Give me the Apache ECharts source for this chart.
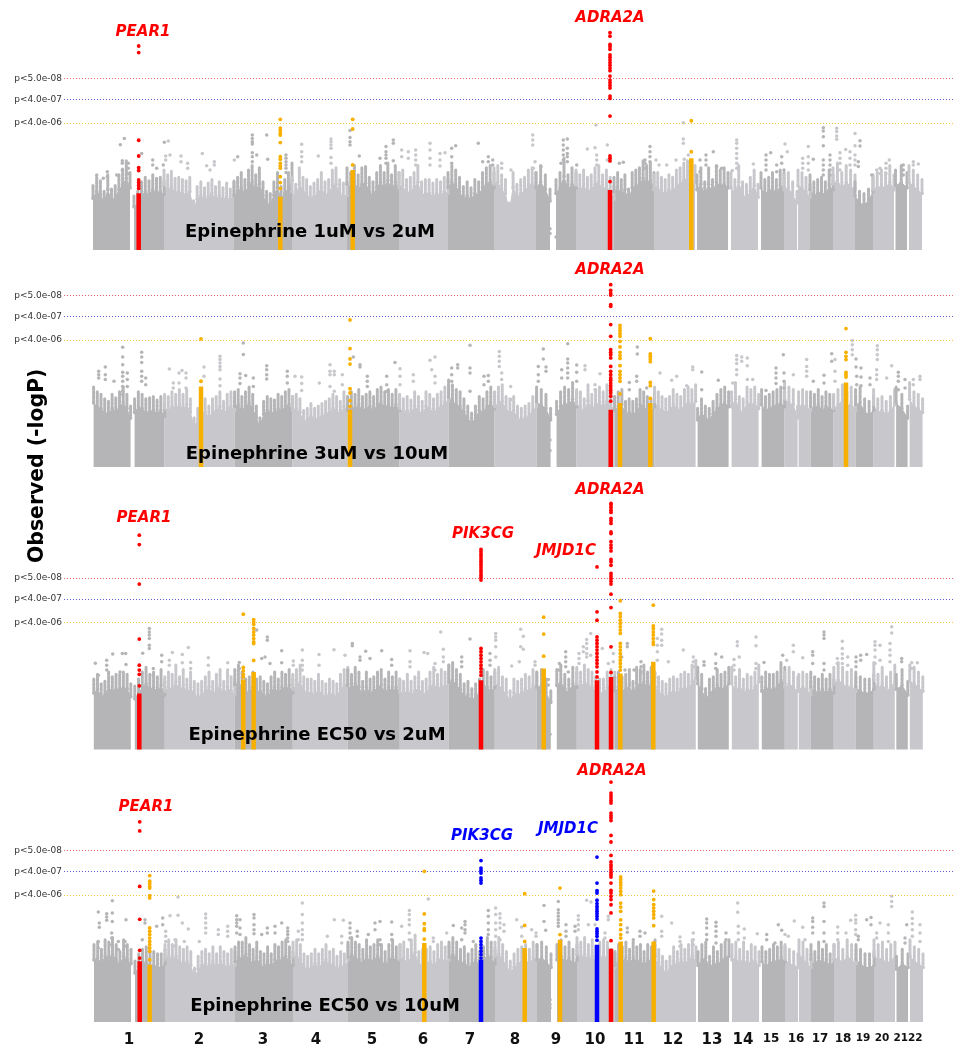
<!DOCTYPE html>
<html><head><meta charset="utf-8">
<style>html,body{margin:0;padding:0;background:#fff}#c{width:965px;height:1050px}</style>
<script src="https://cdn.jsdelivr.net/npm/echarts@6/dist/echarts.min.js"></script></head>
<body><div id="c"></div>
<script>
// x = genome position (plot units), y = -log10(p)
const thresholds = [[7.3,'p<5.0e-08'],[6.4,'p<4.0e-07'],[5.4,'p<4.0e-06']];
const bands = [[0,37,1],[41,71,1],[71,141,2],[141,199,3],[199,254,4],[254,306,5],[306,355,6],[355,401,7],[401,443,8],[443,457,9],[463,483,9],[483,521,10],[521,561,11],[561,602,12],[604,635,13],[638,665,14],[668,691,15],[691,704,16],[705,717,16],[717,740,17],[740,762,18],[762,780,19],[780,801,20],[802.5,814,21],[816,829,22]];
const chromNames = ['1','2','3','4','5','6','7','8','9','10','11','12','13','14','15','16','17','18','19','20','2122'];
const chromTicks = [36,106,170,223,279,330,377,422,463,502,541,580,619,650,678,703,727,750,770,789,815];

const mass1 = [[2.75,3.1,2.95,2.5,3.2,2.6,2.75,3.2,3.45,3.8,3.3],[2.3,2.5,2.9,3.1,2.95,3.2,3.05,3.1,2.95],[3.4,3.2,3.35,3.05,3.1,3.0,2.95,3.1,2.1,2.7,2.9,2.65,2.85,3.0,2.7,2.9,2.65,2.85,2.6,2.95],[2.9,3.1,3.3,3.0,3.4,3.6,3.2,3.5,2.9,2.5,2.4,2.9,3.3,2.7,3.0,3.3,3.7],[3.1,2.8,3.5,3.1,3.0,2.7,2.85,3.0,3.3,2.9,3.0,3.4,3.5,3.0,2.85,2.9],[3.5,3.3,3.6,3.2,3.5,3.55,3.1,2.9,3.3,3.6,3.3,3.7,3.2,3.6,3.3],[3.3,3.4,3.0,3.1,3.3,3.6,2.9,3.0,3.0,2.85,3.0,2.9,3.1,3.0],[3.3,3.6,3.4,3.1,2.7,2.9,2.65,3.0,2.9,3.3,3.5,3.6,3.3],[3.5,3.6,3.2,3.0,2.0,3.3,2.8,3.0,3.1,3.4,3.5,3.3],[3.3,3.6,3.2,2.6],[3.0,3.3,3.9,3.2,3.5,3.3],[3.4,3.2,3.4,3.1,3.2,3.5,3.6,3.2,3.4,3.1,2.7],[3.1,3.3,3.0,3.2,2.6,3.3,3.4,3.5,3.8,3.6,3.7,3.3],[3.2,3.3,3.1,3.0,3.2,3.1,3.4,3.5,3.7,3.8,3.3,3.6],[3.2,3.5,2.9,3.5,3.0,3.6,3.4,3.5,3.3],[3.3,3.0,3.6,2.9,2.8,3.1,3.4,2.8],[3.3,3.0,3.1,3.3,3.0,3.4,3.3],[3.2,3.3,2.9,2.5],[3.4,3.3,3.1,2.8],[3.2,2.9,3.0,3.1,2.9,3.4,3.2],[3.5,3.7,3.3,3.6,3.4,3.2],[2.9,2.5,2.4,2.6,3.1],[3.2,3.3,3.4,3.3,3.6,3.2],[3.4,3.6,3.3],[3.6,3.4,3.2,3.0]];
const mass2 = [[3.4,3.2,3.1,2.9,2.8,3.1,2.95,3.2,3.4,3.1,2.6],[2.9,3.2,3.1,2.9,2.95,3.0,2.85,3.0,2.7],[3.1,3.0,3.2,3.1,3.3,3.1,3.3,2.9,2.1,2.5,2.8,2.9,2.6,2.9,3.0,3.2,2.8,3.1,3.2,3.0],[3.2,3.3,3.0,3.2,3.4,3.1,2.6,2.1,2.8,3.0,2.9,2.85,3.1,3.0,3.2,3.3,3.0],[3.0,3.1,2.9,2.4,2.5,2.7,2.5,2.6,2.7,2.8,2.9,3.1,3.0,2.8,3.2,3.0],[3.0,3.2,3.1,3.3,3.0,3.1,3.2,3.0,3.3,3.4,3.2,3.3,3.1,3.3,3.0],[3.1,2.9,3.0,2.85,3.2,3.0,2.8,3.2,3.1,2.9,3.1,3.2,3.4,3.5],[3.7,3.5,3.3,3.2,2.9,2.6,2.3,2.6,3.0,2.9,3.2,3.4,3.1],[3.2,3.4,3.5,3.0,2.9,3.0,2.6,2.5,2.6,2.7,3.0,3.2],[3.4,3.3,3.1,2.5],[2.8,3.2,3.4,3.3,3.6,3.2],[3.3,3.2,2.9,3.5,3.1,3.3,3.4,3.2,3.5,3.3,3.0],[3.0,3.2,3.3,2.8,2.9,2.8,2.9,3.3,3.2,3.0,2.9,3.2],[3.4,3.2,3.0,2.9,3.0,3.3,3.1,3.0,3.3,3.4,3.3,3.5],[2.5,2.9,2.6,2.5,2.8,3.1,3.3,3.4,3.2],[3.2,3.6,3.0,2.9,3.4,3.3,3.4,3.1],[3.3,3.0,3.1,3.2,3.3,3.4,3.2],[3.6,3.4,3.3,2.6],[3.2,3.3,3.2,3.0],[3.2,3.1,3.3,3.0,3.2,3.1,3.0],[3.1,3.3,3.5,3.2,3.4,3.0],[3.3,3.4,2.9,2.8,3.0],[3.3,2.9,3.0,2.8,3.0,3.3],[3.4,3.1,2.6],[3.6,3.2,3.1,2.9]];
const mass3 = [[3.0,3.2,2.8,2.9,3.3,3.1,3.2,3.2,3.3,3.2,2.8],[2.7,3.0,3.3,3.5,3.2,3.3,3.1,3.4,2.9],[3.1,3.3,3.2,3.6,3.1,3.4,3.0,3.3,2.9,2.8,2.9,3.1,3.3,2.9,3.2,3.4,2.9,3.3,3.1,2.9],[3.4,3.6,3.3,3.0,3.1,3.3,3.0,3.1,2.9,2.8,3.1,3.3,3.0,3.3,3.2,3.4,3.0],[3.2,3.4,3.6,3.1,3.0,3.0,2.9,3.2,2.9,2.8,3.0,2.9,2.8,3.2,3.4,3.5],[3.4,3.2,3.5,3.3,2.9,3.3,3.0,3.1,3.3,3.4,3.0,3.3,3.1,3.3,3.0],[3.0,2.9,3.2,2.9,3.1,3.3,2.9,3.0,3.3,3.5,3.2,3.4,3.3,3.6],[3.6,3.7,3.4,3.2,2.8,2.9,2.6,2.8,3.0,3.4,3.3,3.1,3.3],[3.4,3.5,3.1,3.0,2.5,3.0,2.9,3.0,3.2,3.1,3.4,3.3],[3.3,3.4,3.0,2.5],[3.4,3.6,3.2,3.0,3.5,3.3],[3.5,3.3,3.6,3.4,3.3,3.1,3.0,3.0,3.3,3.4,3.3],[3.1,3.3,3.1,3.2,3.4,2.9,3.5,3.4,3.6,3.3,3.5,3.3],[3.3,3.1,2.9,2.8,3.0,3.1,3.0,3.2,3.3,3.2,3.6,3.8],[3.5,3.2,2.6,3.0,3.1,3.4,3.2,3.3,3.5],[3.5,3.1,3.4,3.0,3.2,3.1,3.3,3.6],[3.1,3.3,3.2,3.2,3.3,3.7,3.5],[3.3,3.5,3.3,3.1],[3.2,3.3,3.2,2.9],[3.3,3.1,3.0,3.2,3.0,3.2,3.0],[3.5,3.7,3.5,3.3,3.4,3.1],[3.3,3.1,3.0,3.0,3.2],[3.7,3.2,3.5,3.1,3.3,3.6],[3.2,3.4,2.9],[3.6,3.5,3.3,3.1]];
const mass4 = [[3.3,3.4,3.1,3.5,3.4,3.6,3.3,3.0,3.5,3.3,3.1],[2.6,2.9,3.1,3.2,3.0,3.0,2.9,2.9,3.1],[3.3,3.5,3.3,3.5,3.2,3.1,3.2,3.0,2.3,2.8,3.0,3.1,2.9,3.2,2.9,3.2,3.0,2.9,3.1,3.0],[3.2,3.4,3.4,3.6,3.3,3.1,3.4,3.0,2.9,3.2,2.9,3.3,3.2,3.4,3.5,3.2,3.0],[3.4,3.5,3.3,2.9,2.8,2.9,3.1,2.9,3.1,3.3,3.0,3.1,2.8,3.0,2.9,3.3],[3.4,3.6,3.4,3.3,3.1,3.5,3.2,3.3,3.5,3.3,3.0,3.3,3.5,3.2,3.3],[3.3,3.4,3.1,3.5,3.7,3.0,3.1,3.1,3.2,3.0,3.3,3.4,3.2,3.3],[3.4,3.6,3.4,3.1,3.2,2.9,3.1,3.3,3.0,3.2,3.6,3.4,3.1],[3.4,3.6,3.3,3.0,2.6,2.9,3.1,3.2,3.3,3.1,3.4,3.3],[3.3,3.4,3.2,2.9],[3.3,3.5,3.2,3.4,3.1,3.3],[3.6,3.4,3.6,3.3,3.5,3.2,3.4,3.5,3.4,3.1,2.9],[3.0,3.3,3.2,3.4,3.1,3.4,3.2,3.3,3.0,3.3,3.2,3.5],[3.3,3.1,2.8,2.6,2.8,3.2,3.0,3.3,3.1,3.3,3.5,3.2],[3.0,3.3,3.4,2.8,3.2,3.0,3.3,3.4,3.5],[3.3,3.4,3.1,3.4,3.0,3.3,3.2,3.0],[3.2,3.0,3.1,3.3,3.2,3.4,3.2],[3.3,3.1,3.0,2.9],[3.5,3.4,3.1,2.9],[3.3,3.0,3.4,3.1,3.3,2.9,3.3],[3.3,3.4,3.1,3.5,3.3,3.1],[3.3,3.1,2.9,2.9,3.0],[3.5,3.3,3.4,3.1,3.3,3.4],[2.8,3.1,2.9],[3.5,3.2,3.1,2.9]];

// background SNPs above the dense mass: [position, -logP, -logP, ...]
const snps1 = [[27.3,4.48],[31.3,4.75],[29.3,3.8,3.69,3.4],[35.3,3.69,3.48,3.26],[3.7,3.19],[14.3,3.33,3.12],[10.3,3.05],[23.7,3.19],[48.7,4.11],[59.7,3.83,3.62],[63.7,3.48],[71.3,4.58],[75.3,4.64],[72.7,4.0,3.83],[77,4.04],[70.3,3.62],[88,4.0,3.76],[94.7,3.69,3.48],[109.3,4.11],[113.7,3.59],[121.3,3.76,3.62],[117,3.4],[141.3,3.83],[144.7,3.97],[159.3,4.89,4.75,4.61,4.51,4.14,3.97,3.76],[163.7,4.04],[173.7,4.89],[174.7,3.86],[193,4.04,3.9,3.76,3.62,3.48,3.3],[208.7,4.5,4.18,3.97,3.76],[225.3,4.0],[238,4.72,4.61,4.47,4.33,3.94,3.69],[257,5.08,4.79,4.61,4.47],[266.3,4.0],[287,3.9],[293,4.4,4.18,4.04,3.9,3.69],[300.3,4.68,4.54,3.8],[308.7,4.26,3.97],[315.3,4.18,3.9],[322.7,4.26,4.04,3.83,3.62],[337,4.54,4.26,3.9,3.62],[347,4.11,3.83,3.57],[352,4.14],[358.7,4.33,3.97,3.69],[362.7,4.44],[385.3,4.54],[395.3,3.97,3.76],[389.7,3.76],[399.7,3.83,3.62],[408.7,3.69,3.48],[439.7,4.89,4.68,4.47],[442,3.76],[440.3,3.48],[448,3.55],[418,3.4],[457,0.9,0.7],[463,0.55],[470.3,4.68,4.47,4.26,4.04,3.83],[474.3,4.72,4.33,4.11,3.97,3.76],[468,3.69],[483.7,3.62],[494.3,4.3],[502,4.35],[503,5.32],[503.7,4.04,3.83,3.62],[514.3,4.47,3.83],[530.3,3.73],[526.3,3.69],[557,4.4,4.18,3.97,3.76],[552,3.83,3.69,3.48],[563,3.83],[566,3.62],[573.7,3.62],[583,3.83],[590.3,5.42,4.72,4.54],[591.3,3.86],[595.3,4.04],[607,3.83,3.33],[613,4.04,3.83,3.62],[620.3,4.18],[623.7,3.55],[628.7,3.48],[660.3,3.66],[643.7,4.68,4.54,4.33,4.11,3.9,3.69,3.48],[639.3,3.38],[673,4.04,3.83,3.62,3.4],[677.7,4.14],[683.7,3.62,3.33],[688.7,3.97,3.69],[692,4.51],[694.3,4.18],[691,3.4],[715.3,4.4,3.97,3.69,3.4],[709.7,3.9,3.69,3.48],[720.3,3.86],[730.3,5.2,5.06,4.82,4.44,3.83,3.62,3.4,3.19],[737,4.04,3.83,3.62,3.4,3.19],[743.7,5.18,5.04,4.85,4.71],[747,4.14,3.9,3.69,3.4],[752.7,4.28],[757,4.18,3.9,3.62],[762,4.96,4.44,4.04,3.83,3.62],[767,4.65,4.43],[765.3,3.76,3.55],[778.7,3.19],[783.7,3.4],[787,3.48,3.26],[793,3.69,3.48,3.26],[796.3,3.83],[810.3,3.62,3.4,3.19],[820.3,3.76,3.62],[825.3,3.66]];
const snps2 = [[29.7,5.1,4.68,4.35,4.03,3.86,3.65,3.43,3.22,3.08],[5.7,4.07,3.93,3.79],[12.3,4.26,3.93,3.72],[21,3.65],[34.3,4.0,3.72,3.43],[48.7,4.88,4.68,4.45,4.07,3.86,3.65],[52.7,3.79,3.5],[76.3,4.17],[86,4.0,3.57],[89,4.11],[93,4.0,3.79,3.36],[80.3,3.57,3.36],[111,4.26,3.86],[127,4.71,4.57,4.43,4.28,4.14,3.74,3.46],[150.3,5.28,4.79],[147,3.97,3.79,3.55],[152.7,3.89],[160.3,3.79,3.43],[173.7,4.31,4.14,3.93,3.74],[194.3,4.07,3.86,3.57],[202,3.86],[208.7,3.83,3.55,3.26],[226.3,3.57],[237,4.35,4.07,3.93,3.43],[241.3,4.07,3.93,3.22],[249.3,3.93,3.5],[260.3,4.68],[267,4.35,4.26],[274.3,3.86,3.65,3.43],[293.7,3.86,3.5,3.22],[302,4.45],[307,4.18,3.86,3.5],[320.3,3.93,3.65],[337,4.54],[342,4.68,3.86,3.57],[338.7,4.14],[358.7,4.21,3.93,3.65],[364.7,4.35,4.21],[377,5.18,4.21,4.0,3.22],[406.3,4.92,4.71,4.5,4.28],[408.7,4.0,3.72],[391,3.86,3.5],[395.3,3.89,3.65],[417.7,3.43,2.87],[450.3,5.02,4.6],[445.3,4.28,3.93,3.65],[453,4.26,4.07],[457,1.15,0.7],[474.7,5.25,4.6,4.43,4.21,4.0,3.79],[468.7,4.14,3.79],[483.7,4.34,4.03,3.65],[492,4.31,4.14],[507,3.97],[502,3.5,3.29],[544.3,5.11,4.81],[543.7,3.86,3.65],[536.3,3.6,3.29],[553.7,3.36],[567,4.0],[578.7,3.69],[583.7,3.86],[599.7,4.26,4.14],[593.7,3.46],[608.7,4.04,3.29],[625.3,3.69],[643.7,4.75,4.57,4.4,4.14,3.93],[648.7,4.68,4.5],[654.3,4.64,4.31,3.72],[659.7,3.72],[639.7,3.57],[690.3,4.78],[683,4.21,4.0,3.79,3.55],[691,4.0,3.65,3.36],[673,3.26],[700.3,3.93],[713.7,4.57,4.28,4.07,3.86],[738.7,4.82,4.5],[742,4.57,4.07,3.65],[731,3.9,3.57],[720.3,3.65],[759.3,5.38,5.2,4.99,4.78],[763,4.6,4.26],[768,4.21,3.83,3.46],[763.7,3.86,3.5],[784.3,5.16,4.99,4.78,4.57],[783.7,4.14,3.93,3.72],[777,3.79,3.5],[798.7,4.31],[793.7,3.79],[805.3,4.03,3.86,3.65,3.29],[812,3.72,3.36],[827,3.86,3.72],[820.3,3.72,3.5]];
const snps3 = [[56.3,5.15,5.0,4.87,4.72,4.44,4.3],[49.7,4.1],[19.7,4.06],[29.3,4.09],[32.7,4.09],[2.3,3.67],[13.7,3.8,3.59,3.38],[33,3.62],[27,3.3],[5.3,3.16],[68.7,4.01,3.73],[79.3,4.13],[89.3,4.04,3.69],[95.3,4.34],[76.3,3.8,3.59],[60.3,3.45,3.16],[115.3,3.9,3.59],[97.7,3.7,3.45],[134.7,3.69,3.38,3.16],[146.3,3.7,3.45],[163.7,5.08],[174.3,4.79,4.65],[168.7,3.87],[172,3.94],[177,3.66],[188.7,4.2,3.69],[200.3,3.77,3.59],[209.3,4.23,3.8,3.59,3.38],[226,4.04,3.59],[241,4.25],[252,4.01],[259.3,4.51,4.41],[267,3.94,3.8],[272.7,4.18],[277,3.87],[288.7,4.2],[298.7,3.83,3.59],[317,4.2,3.73,3.52],[331,4.13],[334.7,4.09],[347.7,5.0],[350.3,4.27,3.94,3.73],[342,3.66,3.38],[377,4.7],[368.7,3.94,3.73,3.52],[402.7,4.94,4.79,4.65,4.37,3.94],[397,4.09,3.8,3.59],[427.7,5.12,4.37],[430.3,4.82,4.27],[426.3,3.73],[418.7,3.55],[442,3.73,3.59],[455.3,2.98,2.74],[457,0.65],[472.7,4.16,3.94,3.73,3.52],[466.3,3.66,3.38],[475.3,3.3],[486,4.09,3.87,3.66],[493.7,4.68,4.51,4.3,4.09,3.94],[497.7,4.94,4.01],[490.3,4.37,4.16],[509.3,4.3],[515.3,3.66],[520.3,4.09,3.73],[534.3,4.51,4.37],[528.7,3.94],[548,3.73,3.52,3.3],[532,3.38],[541,3.38],[568.7,5.12,4.91,4.65,4.44],[564.3,4.72,4.44,4.16,3.8],[575.3,3.73],[590.3,4.23],[600.3,3.94,3.73,3.52],[611,3.73,3.59],[622.7,4.06,3.66,3.45],[628.7,3.94],[644.3,4.58,4.41],[646.3,3.94],[641,3.83,3.59,3.38],[663,4.79,4.41,3.66,3.45],[671,3.7],[689.7,4.01],[700.3,4.44,4.16],[693.7,3.8],[709.7,3.9],[719.7,4.16,4.01,3.66],[731,5.0,4.87,4.72,3.66,3.38],[749.3,4.61,4.3,4.06,3.87,3.66],[744.3,3.87,3.66],[754.7,3.94,3.59],[763,3.94,3.73,3.52],[767.7,4.01,3.8],[773.7,4.04],[782,4.58,4.44,4.23,3.94,3.66],[787,4.44,3.8],[798.7,5.22,4.96],[797,4.51,4.23,4.01,3.73],[808.7,3.87,3.73],[818.7,3.69,3.45],[824.3,3.69]];
const snps4 = [[19.3,5.16],[5.3,4.68,3.43,3.15],[13.7,4.61,4.47,4.33],[19.3,4.64,4.28],[6.3,4.21,4.03],[33,4.35],[18.7,3.79,3.57,3.29],[32,3.43,3.22],[25.3,3.43,3.08],[52,4.35,4.21],[49.3,3.5],[69.7,4.43,4.14],[63.7,4.07],[77,4.52],[85,5.32,4.54],[89.3,4.21],[95.3,3.96],[72.7,3.86,3.65,3.43],[82,3.5,3.22],[91.3,3.43],[112.7,4.6,4.43,4.21,4.0,3.79],[106.3,3.43],[125.3,3.93,3.72],[134.7,4.07,3.86,3.65],[143.7,4.52,4.35,4.21,4.07,3.79],[147,4.35,4.0,3.72],[161,4.57,4.43,4.14,3.93,3.76],[168.7,3.72],[174.3,4.0,3.79],[182,4.07,3.79],[188.7,4.21],[194.7,4.0,3.86,3.72,3.57,3.43],[209.3,5.06,4.57,4.21,3.93,3.72,3.5],[205.3,3.86,3.5],[241.3,4.35],[250.3,4.33],[257,4.21,4.0,3.79,3.57],[248.7,3.65,3.36],[234.3,3.65],[264.3,3.86,3.65],[282,4.21,3.93],[287,4.28,3.5,3.29],[275.3,3.72],[298.7,4.26,3.72,3.5],[308.7,4.07],[316.3,4.75,4.57,4.35,4.14,3.79,3.5],[335.3,5.23],[340.3,3.57,3.43],[353.7,3.79],[360.3,4.11],[372,4.28,4.14,3.93,3.79],[368.7,4.0,3.5],[380.3,3.43],[402.7,4.85,4.57,4.21,3.93,3.65],[395.3,4.75,4.5,4.21,3.93,3.72],[407,4.61,4.43,4.21,4.0,3.5],[411,4.14,3.86],[423.7,4.35],[428.7,4.04,3.65],[438.7,3.93],[451,4.96,4.28],[443,3.79,3.65],[452.7,3.9],[457,0.95,0.75,0.6],[465.3,5.13,4.78,4.64,4.5,4.35,4.21,4.07],[473,4.14,3.86,3.65],[485.3,4.52,4.35,4.14,3.93],[482,4.07,3.86],[493.7,5.18],[498,5.11],[495.3,4.14],[502,4.14],[512,3.79,3.57],[515.3,4.5,4.35],[534.3,4.0,3.82],[547,3.86,3.65],[552,3.79],[540.3,3.5],[568.7,4.5,3.86,3.65],[578.7,4.21],[587,3.62,3.43,3.22],[600.3,3.79,3.5,3.29],[613.7,4.38,4.21,4.0,3.72,3.5],[623,4.24,4.07,3.86,3.65,3.36],[633,3.79,3.5],[644.7,5.06,4.67],[645.3,4.07,3.79,3.5],[651.3,3.96,3.57],[664.3,3.76],[673.7,3.72,3.5],[685.3,4.14],[688.7,3.9],[682,3.36],[695.3,3.65],[701.3,4.3],[692,3.72],[709.7,4.03],[719.7,4.43,4.28,4.03,3.79],[712,3.5],[731,5.06,4.92,4.28,3.79,3.43],[744.7,4.04,3.79,3.5],[757.7,4.33],[762.7,4.54,4.35,4.21,3.93,3.72],[753,3.79],[773.7,4.35],[778,4.45,4.14],[765.3,3.65,3.5],[787,4.21],[783.7,3.79,3.57],[798.7,5.35,5.13,4.92],[795.3,4.14,3.79,3.43],[813.7,4.14],[812,3.57,3.36],[819.3,4.68,4.4,4.18,3.93,3.65],[827,4.14,3.79,3.43]];

// associated loci: [position, top of solid column, [separate SNPs]]
const red1 = [[45.7,2.41,[8.68,8.4,4.67,4.0,3.5,3.38,2.98,2.87,2.75,2.62]],[517,2.55,[9.25,9.1,8.75,8.65,8.54,8.3,8.2,8.09,7.97,7.86,7.74,7.63,7.4,7.23,7.12,7.0,6.89,6.55,6.45,5.7,4.0,3.9,3.79,2.91]]];
const orange1 = [[187.3,2.27,[5.56,5.19,5.08,4.96,4.89,4.57,3.97,3.86,3.69,3.57,3.48,3.12,2.87,2.62]],[259.7,3.4,[5.56,5.15,3.62]],[598.3,3.9,[5.5,4.18]]];
const blue1 = [];
const red2 = [[517.7,2.44,[7.76,7.52,7.4,7.32,6.91,6.84,6.06,5.56,4.99,4.88,4.78,4.64,4.28,4.07,3.93,3.79,3.69,3.57,3.46,3.36,3.26,3.15,3.01,2.8]]];
const orange2 = [[108,3.43,[5.45,3.65]],[257,2.44,[6.26,5.04,4.6,4.38,3.33,3.15,2.82,2.58]],[527,2.72,[6.03,5.91,5.8,5.67,5.56,5.35,5.11,4.88,4.74,4.62,4.31,4.07,3.93,3.79,3.65,3.11]],[557.3,2.72,[5.46,4.81,4.71,4.6,4.48,3.6,3.46,2.92]],[753,3.6,[5.89,4.88,4.71,4.57,4.03,3.93,3.83]]];
const blue2 = [];
const red3 = [[46.3,2.38,[9.12,8.72,7.04,4.7,3.59,3.38,3.2,2.71]],[388,2.95,[8.51,8.41,8.31,8.21,8.11,8.01,7.91,7.82,7.72,7.62,7.52,7.42,7.32,7.21,4.3,4.16,4.01,3.87,3.73,3.59,3.45,3.3,3.16]],[504,2.95,[7.77,5.86,5.5,4.79,4.65,4.51,4.37,4.23,4.09,3.94,3.8,3.66,3.52,3.3,3.09]],[518,3.09,[10.47,10.4,10.3,10.18,10.09,9.83,9.73,9.62,9.26,9.19,8.84,8.7,8.58,8.45,8.09,7.99,7.84,7.49,7.38,7.28,7.16,7.04,6.61,6.04,4.37,3.28]]];
const orange3 = [[150.3,2.98,[5.76,3.49,3.35,3.2,3.09]],[160.7,3.3,[5.53,5.43,5.33,5.15,5.0,4.87,4.72,4.58,4.51,3.79]],[450.7,3.45,[5.63,4.91,3.97]],[527.3,3.23,[6.33,5.79,5.65,5.5,5.36,5.22,5.08,4.94,4.51,4.37,4.23,4.09,3.94,3.8,3.66,3.52,3.38]],[560.3,3.73,[6.14,5.26,5.15,5.0,4.87,4.72,4.58,4.47,3.52]]];
const blue3 = [];
const red4 = [[46.7,2.58,[8.52,8.13,5.77,4.37,3.05,2.72]],[518,3.12,[10.21,9.74,9.63,9.53,9.43,9.32,8.89,8.78,8.68,8.57,7.94,7.66,7.09,6.81,6.69,6.6,6.48,6.37,6.27,6.17,5.91,5.6,5.49,5.35,5.21,4.99,4.64,3.46]]];
const orange4 = [[56.7,2.44,[6.23,5.99,5.89,5.77,5.7,5.38,5.28,4.0,3.86,3.72,3.57,3.43,3.29,3.15,3.01,2.65]],[331.3,3.36,[6.41,4.6,4.18,3.97,3.9,3.53]],[431.7,3.15,[5.46,4.11,3.43]],[467,3.5,[5.7,3.72,3.29,3.15,2.94]],[527.7,3.43,[6.17,6.06,5.94,5.83,5.7,5.56,5.42,5.06,4.89,4.71,4.35,4.14,3.93,3.72,3.57]],[560.7,3.43,[5.57,5.21,4.99,4.85,4.71,4.57,4.43,4.1]]];
const blue4 = [[388,2.65,[6.87,6.55,6.45,6.34,6.13,6.03,5.91,3.57,3.43,3.29,3.15,3.01,2.87,2.72]],[504,3.29,[7.02,5.91,5.59,5.49,5.18,5.04,4.92,4.81,4.71,4.61,4.5,4.38,3.96,3.86,3.76,3.65,3.48]]];

const panelTitles = ['Epinephrine 1uM vs 2uM','Epinephrine 3uM vs 10uM','Epinephrine EC50 vs 2uM','Epinephrine EC50 vs 10uM'];
const genes = [
 ['PEAR1',143,32,'#f00'],['ADRA2A',610,18,'#f00'],
 ['ADRA2A',610,270,'#f00'],
 ['PEAR1',144,518,'#f00'],['PIK3CG',483,534,'#f00'],['JMJD1C',566,551,'#f00'],['ADRA2A',610,490,'#f00'],
 ['PEAR1',146,807,'#f00'],['PIK3CG',482,836,'#00f'],['JMJD1C',568,829,'#00f'],['ADRA2A',612,771,'#f00']];
const titlePos = [[310,232],[317,454],[317,735],[325,1006]];

const masses=[mass1,mass2,mass3,mass4], snps=[snps1,snps2,snps3,snps4];
const reds=[red1,red2,red3,red4], oranges=[orange1,orange2,orange3,orange4], blues=[blue1,blue2,blue3,blue4];
const baselines=[250,467,749.5,1022], bandShift=[0,0.6,0.8,1];
const YMAX=10.5, PX=23.5, DARK='#b5b5b7', LIGHT='#c8c8cc', FONT='"DejaVu Sans",Verdana,sans-serif', BODY=0.8;
const tone=c=>c%2?DARK:LIGHT;
function toneAt(x){for(const b of bands){if(x<b[1]+1)return tone(b[2]);}return LIGHT;}

const grids=[],xAxes=[],yAxes=[],series=[];
baselines.forEach((b,i)=>{
  grids.push({left:0,width:965,top:b-YMAX*PX,height:YMAX*PX});
  const last=i===3;
  xAxes.push({type:'value',gridIndex:i,min:-93,max:872,splitLine:{show:false},axisLine:{show:false},axisTick:{show:false},
    axisLabel:last?{show:true,customValues:chromTicks,margin:11,hideOverlap:false,showMinLabel:true,showMaxLabel:true,
      formatter:v=>{const n=chromNames[chromTicks.indexOf(v)];return ((+n>=19)?'{t|':(+n>=15?'{s|':'{b|'))+n+'}';},
      rich:{b:{fontFamily:FONT,fontWeight:'bold',fontSize:15,color:'#111'},s:{fontFamily:FONT,fontWeight:'bold',fontSize:12,color:'#111'},t:{fontFamily:FONT,fontWeight:'bold',fontSize:10.5,color:'#111'}}}:{show:false}});
  yAxes.push({type:'value',gridIndex:i,min:0,max:YMAX,show:false,splitLine:{show:false}});
  const ax={xAxisIndex:i,yAxisIndex:i};
  const stems=[];
  bands.forEach((bd,k)=>{
    const h=masses[i][k],n=h.length,s=bandShift[i],c=tone(bd[2]);
    const pts=h.map((v,j)=>[bd[0]+s+(bd[1]-bd[0])*j/(n-1),v]);
    pts.forEach(p=>stems.push([p[0],p[1],bd[2]]));
    series.push({type:'line',...ax,z:2,silent:true,symbol:'circle',symbolSize:3.5,showSymbol:true,showAllSymbol:true,
      lineStyle:{color:c,width:1},itemStyle:{color:c},areaStyle:{color:c,opacity:1},
      data:pts.map(p=>[p[0],p[1]*BODY])});
  });
  series.push({type:'custom',...ax,z:3,silent:true,clip:false,data:stems,encode:{x:0,y:1},
    renderItem:(params,api)=>{
      const x=api.value(0),v=api.value(1),a=api.coord([x,v]),o=api.coord([x,v*BODY]);
      return {type:'line',shape:{x1:a[0],y1:a[1],x2:o[0],y2:o[1]},
        style:{stroke:tone(api.value(2)),lineWidth:3,lineDash:[3,1],lineCap:'round',fill:null}};
    }});
  const pts=[];snps[i].forEach(r=>r.slice(1).forEach(v=>pts.push([r[0],v])));
  series.push({type:'scatter',...ax,z:3,silent:true,symbolSize:3.5,itemStyle:{color:p=>toneAt(p.value[0]),opacity:1},data:pts});
  series.push({type:'line',...ax,z:9,silent:true,symbol:'none',data:[],
    markLine:{silent:true,symbol:'none',animation:false,data:thresholds.map((t,j)=>[
      {coord:[-29,t[0]],lineStyle:{color:['#e8686a','#5a5ad6','#f5c542'][j],type:[1,2],width:1},
       label:{show:true,position:'start',formatter:t[1],fontFamily:FONT,fontSize:9,color:'#333',distance:2}},
      {coord:[860,t[0]]}])}});
  [[oranges[i],'#f8b000',4.5],[reds[i],'#f00',4.5],[blues[i],'#00f',4.5]].forEach(([g,col,w])=>{
    g.forEach(r=>{
      series.push({type:'line',...ax,z:5,silent:true,symbol:'none',lineStyle:{color:col,width:w,cap:'butt'},data:[[r[0],0],[r[0],r[1]]]});
      series.push({type:'scatter',...ax,z:6,silent:true,symbolSize:3.8,itemStyle:{color:col,opacity:1},data:r[2].map(v=>[r[0],v])});
    });
  });
});

const graphic=[
 {type:'text',rotation:Math.PI/2,x:28,y:563,z:50,style:{text:'Observed (-logP)',fontFamily:FONT,fontWeight:'bold',fontSize:20.4,fill:'#000',textAlign:'left',textVerticalAlign:'top'}}
];
panelTitles.forEach((t,i)=>graphic.push({type:'text',x:titlePos[i][0],y:titlePos[i][1],z:50,style:{text:t,fontFamily:FONT,fontWeight:'bold',fontSize:18,fill:'#000',textAlign:'center',textVerticalAlign:'middle'}}));
genes.forEach(g=>graphic.push({type:'text',x:g[1],y:g[2],z:50,style:{text:g[0],fontFamily:FONT,fontWeight:'bold',fontStyle:'italic',fontSize:15,fill:g[3],textAlign:'center',textVerticalAlign:'middle'}}));

const chart=echarts.init(document.getElementById('c'),null,{renderer:'canvas'});
chart.setOption({animation:false,backgroundColor:'#fff',grid:grids,xAxis:xAxes,yAxis:yAxes,series,graphic});
</script></body></html>
